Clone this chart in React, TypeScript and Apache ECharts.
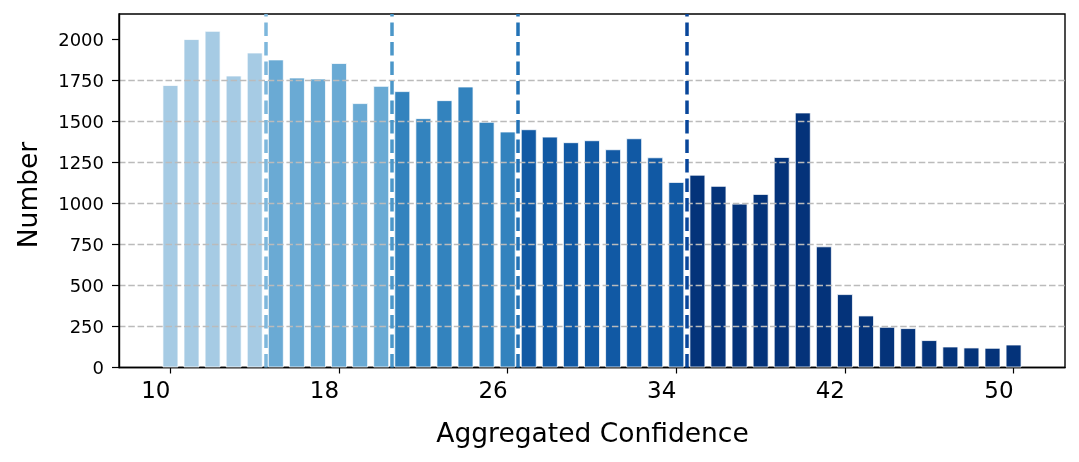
import { useEffect, useRef } from "react";
import * as echarts from "echarts";

const xStart = 10;
const counts = [
  1720, 2000, 2050, 1778, 1918, 1876, 1766, 1760, 1854, 1610, 1715, 1683, 1518, 1628,
  1711, 1496, 1437, 1451, 1406, 1372, 1384, 1329, 1396, 1280, 1130, 1174, 1106, 998,
  1057, 1282, 1553, 738, 447, 317, 248, 240, 167, 128, 122, 120, 140,
];
const groupBreaks = [14.5, 20.5, 26.5, 34.5];
const groupColors = ["#a6cbe4", "#6aaad4", "#3383be", "#1159a4", "#04337a"];
const lineColors = ["#7db7dc", "#4b97c9", "#2373b6", "#08469a"];
const xTicks = [10, 18, 26, 34, 42, 50];
const yTicks = [0, 250, 500, 750, 1000, 1250, 1500, 1750, 2000];
const xName = "Aggregated Confidence";
const yName = "Number";

const FONT = "DejaVu Sans";

export default function App() {
  const ref = useRef<HTMLDivElement>(null);
  useEffect(() => {
    const chart = echarts.init(ref.current!, null, { renderer: "svg" });
    const data = counts.map((v, i) => {
      const x = xStart + i;
      const g = groupBreaks.filter((b) => x > b).length;
      return { value: [x, v], itemStyle: { color: groupColors[g] } };
    });
    chart.setOption({
      animation: false,
      grid: {
        left: 119,
        right: 14,
        top: 14,
        bottom: 94.5,
        show: true,
        borderColor: "#000",
        borderWidth: 1.4,
        backgroundColor: "transparent",
      },
      xAxis: {
        type: "value",
        min: 7.56,
        max: 52.44,
        axisLine: { show: true, lineStyle: { color: "#000", width: 1.4 } },
        axisTick: {
          show: true,
          customValues: xTicks,
          length: 6,
          lineStyle: { color: "#000", width: 1.2 },
        },
        axisLabel: {
          customValues: xTicks,
          align: "right",
          fontSize: 23,
          fontFamily: FONT,
          color: "#000",
          margin: 11,
        },
        splitLine: { show: false },
      },
      yAxis: {
        type: "value",
        min: 0,
        max: 2152.5,
        interval: 250,
        z: 5,
        axisLine: { show: true, lineStyle: { color: "#000", width: 1.4 } },
        axisTick: {
          show: true,
          customValues: yTicks,
          length: 7,
          lineStyle: { color: "#000", width: 1.2 },
        },
        axisLabel: {
          customValues: yTicks,
          fontSize: 18,
          fontFamily: FONT,
          color: "#000",
          margin: 15,
          formatter: (v: number) => (yTicks.includes(v) ? String(v) : ""),
        },
        splitLine: {
          show: true,
          showMinLine: false,
          showMaxLine: false,
          lineStyle: { color: "#bbbbbb", width: 1.3, type: [6.5, 2.8] },
        },
      },
      series: [
        {
          type: "bar",
          data,
          barWidth: 16,
          itemStyle: { borderColor: "rgba(255,255,255,0.75)", borderWidth: 1 },
          markLine: {
            silent: true,
            symbol: "none",
            label: { show: false },
            z: 6,
            data: groupBreaks.map((b, i) => ({
              xAxis: b,
              lineStyle: { color: lineColors[i], width: 3.5, type: [13.6, 5.9] },
            })),
          },
        },
      ],
      graphic: [
        {
          type: "text",
          x: 592.5,
          y: 432,
          style: {
            text: xName,
            fontSize: 26.5,
            fontFamily: FONT,
            fill: "#000",
            textAlign: "center",
            textVerticalAlign: "middle",
            align: "center",
            verticalAlign: "middle",
          },
        },
        {
          type: "text",
          x: 27.5,
          y: 195,
          rotation: Math.PI / 2,
          style: {
            text: yName,
            fontSize: 26.5,
            fontFamily: FONT,
            fill: "#000",
            textAlign: "center",
            textVerticalAlign: "middle",
            align: "center",
            verticalAlign: "middle",
          },
        },
      ],
    });
    return () => chart.dispose();
  }, []);
  return (
    <div
      ref={ref}
      style={{ position: "fixed", left: 0, top: 0, width: 1079, height: 462 }}
    />
  );
}
